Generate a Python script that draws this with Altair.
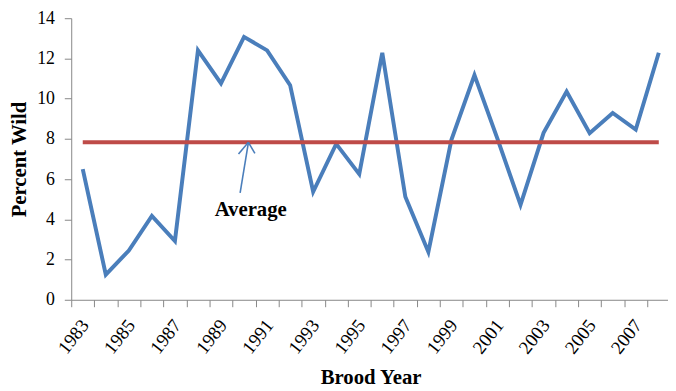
import altair as alt
import pandas as pd

years = list(range(1983, 2009))
percent_wild = [6.5, 1.25, 2.45, 4.17, 2.92, 12.4, 10.76, 13.07, 12.4, 10.67,
                5.37, 7.75, 6.25, 12.28, 5.12, 2.38, 7.95, 11.17, 8.0, 4.72,
                8.3, 10.35, 8.28, 9.29, 8.46, 12.28]
average = 7.83

# annotation (data coordinates)
arrow_x = [1989.83, 1990.19, 1989.76, 1990.47]
arrow_y = [5.31, 7.83, 7.25, 7.28]
label_x = [1990.29]
label_y = [4.17]
label_text = ["Average"]

y_ticks = [0, 2, 4, 6, 8, 10, 12, 14]
tick_bounds = [y - 0.5 for y in years]
label_years = years[::2]

FONT = "Liberation Serif, Times New Roman, serif"
BLUE = "#4A7EBB"
RED = "#BE4B48"
AXIS_GRAY = "#868686"

common = dict(
    labelFont=FONT, labelFontSize=18, labelColor="#000000",
    labelFlush=False, labelOverlap=False, labelBound=False,
    tickSize=7, tickColor=AXIS_GRAY, domainColor=AXIS_GRAY, grid=False,
    titleFont=FONT, titleFontSize=21, titleFontWeight="bold", titleColor="#000000",
)

df = pd.DataFrame({"year": years, "pct": percent_wild, "avg": [average] * len(years)})

x_scale = alt.Scale(domain=[1982.5, 2008.4], nice=False, zero=False)
y_scale = alt.Scale(domain=[0, 14], nice=False)

# axis with year labels at category centres (no ticks)
x_label_axis = alt.Axis(
    orient="bottom", values=label_years, format="d",
    ticks=False, domain=False, tickSize=7,
    labelAngle=-52, labelAlign="right", labelBaseline="middle",
    labelPadding=22, labelOffset=2,
    labelFont=FONT, labelFontSize=19, labelColor="#000000",
    labelFlush=False, labelOverlap=False, labelBound=False, grid=False,
    title="Brood Year", titleFont=FONT, titleFontSize=21, titleFontWeight="bold",
    titleColor="#000000", titleX=303, titleY=85, titleBaseline="alphabetic",
    titleAnchor="middle", titleAlign="center",
)
# axis with ticks on category boundaries (no labels)
x_tick_axis = alt.Axis(
    orient="bottom", values=tick_bounds, labels=False, title=None,
    tickSize=7, tickColor=AXIS_GRAY, domainColor=AXIS_GRAY, grid=False,
)
y_axis = alt.Axis(
    values=y_ticks, labelPadding=10,
    title="Percent Wild", titleX=-52, titleY=142.5, titleAngle=-90,
    titleBaseline="middle", titleAlign="center",
    **common,
)

base = alt.Chart(df)
series = base.mark_line(color=BLUE, strokeWidth=4).encode(
    x=alt.X("year:Q", scale=x_scale, axis=x_tick_axis),
    y=alt.Y("pct:Q", scale=y_scale, axis=y_axis),
)
avg_line = base.mark_line(color=RED, strokeWidth=4).encode(
    x=alt.X("year:Q", scale=x_scale, axis=x_label_axis),
    y=alt.Y("avg:Q", scale=y_scale, axis=y_axis),
)

arrow_df = pd.DataFrame({
    "x": [arrow_x[0], arrow_x[2], arrow_x[3]],
    "y": [arrow_y[0], arrow_y[2], arrow_y[3]],
    "x2": [arrow_x[1]] * 3,
    "y2": [arrow_y[1]] * 3,
})
arrow = alt.Chart(arrow_df).mark_rule(color=BLUE, strokeWidth=1.6).encode(
    x=alt.X("x:Q", scale=x_scale, axis=None), y=alt.Y("y:Q", scale=y_scale, axis=y_axis),
    x2="x2:Q", y2="y2:Q",
)
text_df = pd.DataFrame({"x": label_x, "y": label_y, "t": label_text})
text = alt.Chart(text_df).mark_text(
    font=FONT, fontSize=21, fontWeight="bold", color="#000000",
    align="center", baseline="alphabetic",
).encode(x=alt.X("x:Q", scale=x_scale, axis=None),
         y=alt.Y("y:Q", scale=y_scale, axis=y_axis), text="t:N")

chart = alt.layer(series, avg_line, arrow, text).resolve_axis(x="independent").properties(
    width=604, height=285,
    autosize=alt.AutoSizeParams(type="none"),
    padding={"left": 64, "top": 8, "right": 0, "bottom": 90},
).configure(background="white", font=FONT).configure_view(stroke=None).configure_axis(**common)

chart.save("out.html", embed_options={"renderer": "svg", "actions": False})
